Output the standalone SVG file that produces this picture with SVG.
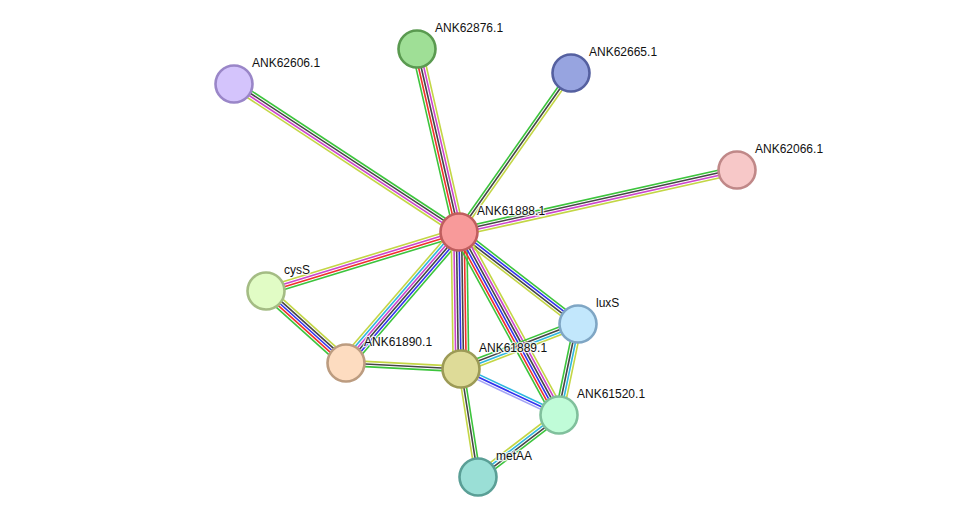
<svg xmlns="http://www.w3.org/2000/svg" width="975" height="523" viewBox="0 0 975 523">
<style>
.e line{stroke-width:1.6;fill:none}
.g{stroke:#3cc43c}.r{stroke:#f0302c}.b{stroke:#3232ee}.k{stroke:#454545}.m{stroke:#cc44cc}.c{stroke:#2eb6de}.y{stroke:#c3d645}.p{stroke:#a3a3f5}
.n circle{stroke-width:2.6}
text{font-family:"Liberation Sans",Arial,sans-serif;font-size:12px;fill:#111;stroke:#fff;stroke-width:2.5;stroke-opacity:0.8;paint-order:stroke;stroke-linejoin:round}
</style>
<rect width="975" height="523" fill="#fff"/>
<g id="edges" class="e">
<g transform="translate(459,232) rotate(-102.93)"><line class="g" x1="0" y1="-5.2" x2="187.8" y2="-5.2"/><line class="r" x1="0" y1="-2.6" x2="187.8" y2="-2.6"/><line class="k" x1="0" y1="0" x2="187.8" y2="0"/><line class="m" x1="0" y1="2.6" x2="187.8" y2="2.6"/><line class="y" x1="0" y1="5.2" x2="187.8" y2="5.2"/></g>
<g transform="translate(459,232) rotate(-146.67)"><line class="y" x1="0" y1="-3.9" x2="269.3" y2="-3.9"/><line class="m" x1="0" y1="-1.3" x2="269.3" y2="-1.3"/><line class="k" x1="0" y1="1.3" x2="269.3" y2="1.3"/><line class="g" x1="0" y1="3.9" x2="269.3" y2="3.9"/></g>
<g transform="translate(459,232) rotate(-54.84)"><line class="g" x1="0" y1="-2.6" x2="194.5" y2="-2.6"/><line class="k" x1="0" y1="0" x2="194.5" y2="0"/><line class="y" x1="0" y1="2.6" x2="194.5" y2="2.6"/></g>
<g transform="translate(459,232) rotate(-12.57)"><line class="g" x1="0" y1="-3.9" x2="284.8" y2="-3.9"/><line class="k" x1="0" y1="-1.3" x2="284.8" y2="-1.3"/><line class="m" x1="0" y1="1.3" x2="284.8" y2="1.3"/><line class="y" x1="0" y1="3.9" x2="284.8" y2="3.9"/></g>
<g transform="translate(459,232) rotate(163.0)"><line class="g" x1="0" y1="-3.9" x2="201.8" y2="-3.9"/><line class="r" x1="0" y1="-1.3" x2="201.8" y2="-1.3"/><line class="m" x1="0" y1="1.3" x2="201.8" y2="1.3"/><line class="y" x1="0" y1="3.9" x2="201.8" y2="3.9"/></g>
<g transform="translate(459,232) rotate(130.78)"><line class="g" x1="0" y1="-6.5" x2="173" y2="-6.5"/><line class="b" x1="0" y1="-3.9" x2="173" y2="-3.9"/><line class="k" x1="0" y1="-1.3" x2="173" y2="-1.3"/><line class="m" x1="0" y1="1.3" x2="173" y2="1.3"/><line class="c" x1="0" y1="3.9" x2="173" y2="3.9"/><line class="y" x1="0" y1="6.5" x2="173" y2="6.5"/></g>
<g transform="translate(459,232) rotate(89.16)"><line class="g" x1="0" y1="-7.8" x2="137" y2="-7.8"/><line class="r" x1="0" y1="-5.2" x2="137" y2="-5.2"/><line class="k" x1="0" y1="-2.6" x2="137" y2="-2.6"/><line class="b" x1="0" y1="0" x2="137" y2="0"/><line class="k" x1="0" y1="2.6" x2="137" y2="2.6"/><line class="m" x1="0" y1="5.2" x2="137" y2="5.2"/><line class="y" x1="0" y1="7.8" x2="137" y2="7.8"/></g>
<g transform="translate(459,232) rotate(37.71)"><line class="g" x1="0" y1="-3.9" x2="150.4" y2="-3.9"/><line class="b" x1="0" y1="-1.3" x2="150.4" y2="-1.3"/><line class="k" x1="0" y1="1.3" x2="150.4" y2="1.3"/><line class="y" x1="0" y1="3.9" x2="150.4" y2="3.9"/></g>
<g transform="translate(459,232) rotate(61.35)"><line class="y" x1="0" y1="-6.5" x2="208.5" y2="-6.5"/><line class="m" x1="0" y1="-3.9" x2="208.5" y2="-3.9"/><line class="k" x1="0" y1="-1.3" x2="208.5" y2="-1.3"/><line class="b" x1="0" y1="1.3" x2="208.5" y2="1.3"/><line class="r" x1="0" y1="3.9" x2="208.5" y2="3.9"/><line class="g" x1="0" y1="6.5" x2="208.5" y2="6.5"/></g>
<g transform="translate(266,291) rotate(41.99)"><line class="y" x1="0" y1="-5.2" x2="107.6" y2="-5.2"/><line class="k" x1="0" y1="-2.6" x2="107.6" y2="-2.6"/><line class="b" x1="0" y1="0" x2="107.6" y2="0"/><line class="r" x1="0" y1="2.6" x2="107.6" y2="2.6"/><line class="g" x1="0" y1="5.2" x2="107.6" y2="5.2"/></g>
<g transform="translate(346,363) rotate(2.99)"><line class="y" x1="0" y1="-2.6" x2="115.2" y2="-2.6"/><line class="k" x1="0" y1="0" x2="115.2" y2="0"/><line class="g" x1="0" y1="2.6" x2="115.2" y2="2.6"/></g>
<g transform="translate(461,369) rotate(-21.04)"><line class="g" x1="0" y1="-3.9" x2="125.4" y2="-3.9"/><line class="k" x1="0" y1="-1.3" x2="125.4" y2="-1.3"/><line class="c" x1="0" y1="1.3" x2="125.4" y2="1.3"/><line class="y" x1="0" y1="3.9" x2="125.4" y2="3.9"/></g>
<g transform="translate(461,369) rotate(25.14)"><line class="c" x1="0" y1="-2.6" x2="108.3" y2="-2.6"/><line class="b" x1="0" y1="0" x2="108.3" y2="0"/><line class="p" x1="0" y1="2.6" x2="108.3" y2="2.6"/></g>
<g transform="translate(461,369) rotate(81.05)"><line class="g" x1="0" y1="-2.6" x2="109.3" y2="-2.6"/><line class="k" x1="0" y1="0" x2="109.3" y2="0"/><line class="y" x1="0" y1="2.6" x2="109.3" y2="2.6"/></g>
<g transform="translate(578,324) rotate(101.79)"><line class="y" x1="0" y1="-3.9" x2="93" y2="-3.9"/><line class="c" x1="0" y1="-1.3" x2="93" y2="-1.3"/><line class="k" x1="0" y1="1.3" x2="93" y2="1.3"/><line class="g" x1="0" y1="3.9" x2="93" y2="3.9"/></g>
<g transform="translate(559,415) rotate(142.57)"><line class="g" x1="0" y1="-3.9" x2="102" y2="-3.9"/><line class="k" x1="0" y1="-1.3" x2="102" y2="-1.3"/><line class="c" x1="0" y1="1.3" x2="102" y2="1.3"/><line class="y" x1="0" y1="3.9" x2="102" y2="3.9"/></g>
</g>
<g id="ANK61888.1" class="n"><circle cx="459" cy="232" r="18.5" fill="#f89a9a" stroke="#c05e5e"/><text x="477" y="215">ANK61888.1</text></g>
<g id="ANK62876.1" class="n"><circle cx="417" cy="49" r="18.5" fill="#9fdf96" stroke="#5a9a50"/><text x="435" y="32">ANK62876.1</text></g>
<g id="ANK62665.1" class="n"><circle cx="571" cy="73" r="18.5" fill="#97a4e0" stroke="#5560a0"/><text x="589" y="56">ANK62665.1</text></g>
<g id="ANK62606.1" class="n"><circle cx="234" cy="84" r="18.5" fill="#d4c4fc" stroke="#9a86c8"/><text x="252" y="67">ANK62606.1</text></g>
<g id="ANK62066.1" class="n"><circle cx="737" cy="170" r="18.5" fill="#f7c8c8" stroke="#c08888"/><text x="755" y="153">ANK62066.1</text></g>
<g id="cysS" class="n"><circle cx="266" cy="291" r="18.5" fill="#e1fcc5" stroke="#a4bc84"/><text x="284" y="274">cysS</text></g>
<g id="luxS" class="n"><circle cx="578" cy="324" r="18.5" fill="#c2e7fc" stroke="#7fa6c4"/><text x="596" y="307">luxS</text></g>
<g id="ANK61890.1" class="n"><circle cx="346" cy="363" r="18.5" fill="#fddcc0" stroke="#bc9c80"/><text x="364" y="346">ANK61890.1</text></g>
<g id="ANK61889.1" class="n"><circle cx="461" cy="369" r="18.5" fill="#dedb98" stroke="#9c9a56"/><text x="479" y="352">ANK61889.1</text></g>
<g id="ANK61520.1" class="n"><circle cx="559" cy="415" r="18.5" fill="#c0fcd8" stroke="#80c09c"/><text x="577" y="398">ANK61520.1</text></g>
<g id="metAA" class="n"><circle cx="478" cy="477" r="18.5" fill="#9adfd6" stroke="#5a9f96"/><text x="496" y="460">metAA</text></g>
</svg>
